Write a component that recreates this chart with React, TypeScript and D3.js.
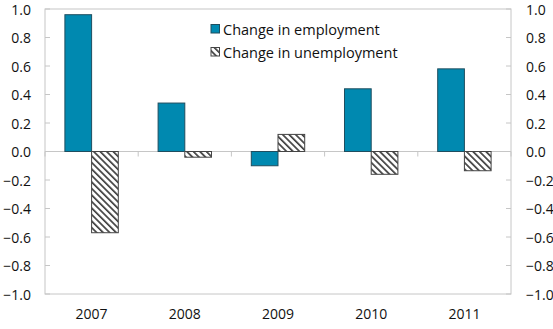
import React from "react";
import * as d3 from "d3";

const years = ["2007", "2008", "2009", "2010", "2011"];
const employment = [0.96, 0.34, -0.1, 0.44, 0.58];
const unemployment = [-0.57, -0.04, 0.12, -0.16, -0.135];
const seriesNames = ["Change in employment", "Change in unemployment"];
const yTicks = [-1.0, -0.8, -0.6, -0.4, -0.2, 0.0, 0.2, 0.4, 0.6, 0.8, 1.0];

const W = 553;
const H = 329;
const left = 45;
const right = 511;
const top = 9;
const bottom = 294;
const FONT = "'Open Sans', 'Noto Sans', sans-serif";
const AXIS = "#c6c6c6";

export default function App() {
  const y = d3.scaleLinear().domain([-1, 1]).range([bottom, top]);
  const x0 = d3.scaleBand<string>().domain(years).range([left, right]).padding(0);
  const bw = x0.bandwidth();
  const gw = bw * 0.573;
  const x1 = d3
    .scaleBand<string>()
    .domain(seriesNames)
    .range([(bw - gw) / 2, (bw + gw) / 2])
    .padding(0);
  const fmt = d3.format(".1f");
  const series = [employment, unemployment];

  return (
    <svg
      width={W}
      height={H}
      style={{ position: "absolute", left: 0, top: 0, background: "#fff" }}
      fontFamily={FONT}
    >
      <defs>
        <pattern
          id="hatch"
          patternUnits="userSpaceOnUse"
          width={4.6}
          height={4.6}
          patternTransform="rotate(-45)"
        >
          <rect width={4.6} height={4.6} fill="#fff" />
          <rect width={1.7} height={4.6} fill="#404040" />
        </pattern>
      </defs>

      {/* plot frame */}
      <rect
        x={left}
        y={top}
        width={right - left}
        height={bottom - top}
        fill="none"
        stroke={AXIS}
        strokeWidth={1}
      />

      {/* y ticks left & right */}
      {yTicks.map((t) => (
        <g key={t}>
          <line x1={left} x2={left + 5} y1={y(t)} y2={y(t)} stroke={AXIS} />
          <line x1={right - 5} x2={right} y1={y(t)} y2={y(t)} stroke={AXIS} />
          <text
            x={31}
            y={y(t)}
            textAnchor="end"
            dominantBaseline="central"
            fontSize={14}
            fill="#111"
          >
            {fmt(t)}
          </text>
          <text
            x={526}
            y={y(t)}
            textAnchor="start"
            dominantBaseline="central"
            fontSize={14}
            fill="#111"
          >
            {fmt(t)}
          </text>
        </g>
      ))}

      {/* zero line */}
      <line x1={left} x2={right} y1={y(0)} y2={y(0)} stroke={AXIS} strokeWidth={1} />
      {years.map((yr) => (
        <line
          key={"ct" + yr}
          x1={x0(yr)!}
          x2={x0(yr)!}
          y1={y(0)}
          y2={y(0) + 5}
          stroke={AXIS}
        />
      ))}
      <line x1={right} x2={right} y1={y(0)} y2={y(0) + 5} stroke={AXIS} />

      {/* bars */}
      {years.map((yr, i) => (
        <g key={yr} transform={`translate(${x0(yr)},0)`}>
          {series.map((vals, s) => {
            const v = vals[i];
            const y0 = y(Math.max(0, v));
            const h = Math.abs(y(v) - y(0));
            return (
              <rect
                key={s}
                x={x1(seriesNames[s])!}
                y={y0}
                width={x1.bandwidth()}
                height={h}
                fill={s === 0 ? "#0089b0" : "url(#hatch)"}
                stroke={s === 0 ? "#1f4e5f" : "#444"}
                strokeWidth={1}
              />
            );
          })}
        </g>
      ))}

      {/* x labels */}
      {years.map((yr) => (
        <text
          key={"xl" + yr}
          x={x0(yr)! + bw / 2}
          y={313}
          textAnchor="middle"
          dominantBaseline="central"
          fontSize={14}
          fill="#111"
        >
          {yr}
        </text>
      ))}

      {/* legend */}
      {seriesNames.map((n, i) => (
        <g key={n} transform={`translate(211,${29 + i * 23})`}>
          <rect
            x={0}
            y={-4.5}
            width={8.5}
            height={8.5}
            fill={i === 0 ? "#0089b0" : "url(#hatch)"}
            stroke={i === 0 ? "#1f4e5f" : "#444"}
            strokeWidth={1}
          />
          <text x={12} y={0} dominantBaseline="central" fontSize={14.5} fill="#111">
            {n}
          </text>
        </g>
      ))}
    </svg>
  );
}
